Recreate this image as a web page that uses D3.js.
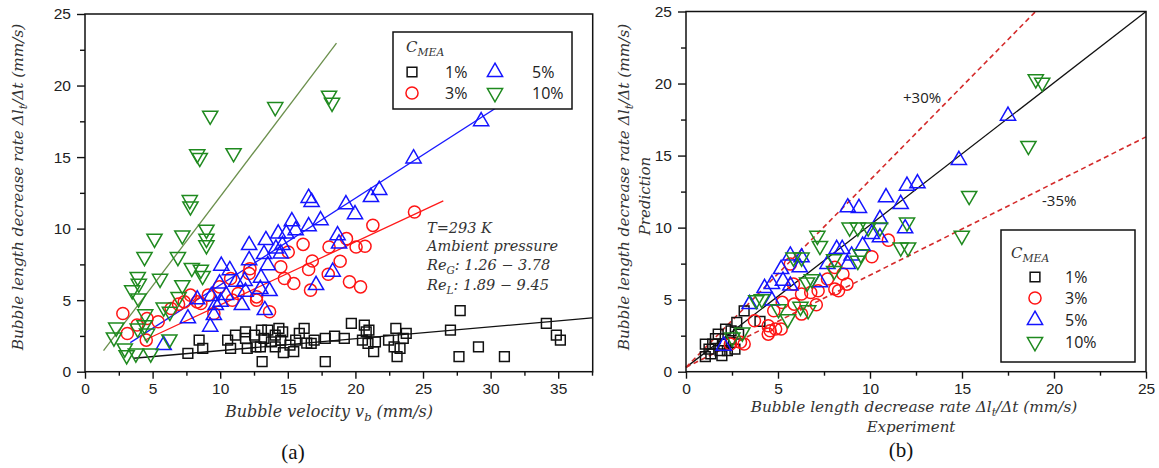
<!DOCTYPE html>
<html>
<head>
<meta charset="utf-8">
<script src="https://cdn.jsdelivr.net/npm/d3@7"></script>
<style>
  body { margin: 0; background: #fff; }
  svg { display: block; }
  .tick text { font-family: "Liberation Sans", Arial, sans-serif; font-size: 15.5px; fill: #222; }
  .ital { font-family: "DejaVu Serif", serif; font-style: italic; fill: #333; }
  .sans { font-family: "Open Sans", sans-serif; fill: #222; }
</style>
</head>
<body>
<svg id="chart" width="1159" height="468"></svg>
<script>
var W = 1159, H = 468;

// ---- panel (a) data: bubble velocity vs decrease rate ----
var aSq = [[27.75,4.26],[27.03,2.91],[34.12,3.37],[34.86,2.56],[35.16,2.21],[29.1,1.74],[27.66,1.05],[31.02,1.05],
  [22.99,3.02],[23.76,2.67],[23.54,2.33],[22.86,1.74],[23.08,1.05],[23.3,1.63],[22.45,2.21],[21.48,2.09],[21.35,1.4],
  [20.93,1.98],[20.66,3.26],[20.8,2.79],[19.7,3.37],[20.52,2.21],[19.18,2.33],[18.46,2.49],[17.77,2.33],[17.77,0.7],
  [16.95,2.21],[16.73,1.98],[16.21,3.02],[15.85,2.67],[15.58,2.21],[15.16,1.86],[15.44,1.4],[14.62,2.79],[14.48,2.21],
  [14.07,2.56],[14.07,1.74],[14.67,1.33],[13.52,2.91],[13.24,2.33],[13.1,0.7],[12.97,1.74],[12.64,1.74],[12.55,2.56],
  [11.87,2.79],[11.87,2.33],[12.0,1.63],[11.13,2.56],[10.55,2.21],[10.77,1.63],[13.05,2.91],[8.44,2.21],[8.71,1.63],
  [7.61,1.28],[13.79,2.09],[14.34,3.02],[21.0,2.9],[16.4,2.0]];
var aCi = [[24.37,11.16],[21.29,10.23],[19.34,9.3],[20.05,8.72],[20.71,8.77],[18.05,8.72],[16.13,8.9],[16.81,7.74],
  [16.54,7.14],[16.68,5.7],[18.87,7.72],[17.99,6.81],[19.56,6.28],[20.38,5.93],[15.03,8.37],[14.48,7.33],[14.75,6.51],
  [15.44,6.16],[12.14,6.86],[10.77,6.51],[11.32,5.47],[10.9,5.0],[12.69,5.23],[12.69,5.0],[9.95,5.93],[9.12,5.35],
  [7.8,5.35],[7.34,4.88],[6.92,4.72],[8.3,4.88],[8.57,4.77],[9.53,4.07],[13.65,4.19],[2.8,4.07],[3.13,2.67],
  [3.85,3.26],[4.59,3.72],[4.53,2.21],[5.41,3.49],[6.37,4.42],[12.2,7.2]];
var aUp = [[29.3,17.5],[24.3,14.9],[21.76,12.7],[21.15,12.2],[19.3,11.7],[19.97,11.0],[16.54,12.14],[16.76,11.86],
  [17.42,10.58],[16.54,10.16],[15.3,10.51],[15.58,9.88],[14.89,9.65],[14.29,9.65],[14.6,8.84],[14.12,8.6],[14.48,8.26],
  [13.38,9.19],[13.24,8.21],[13.52,7.44],[12.14,8.84],[12.14,7.79],[13.02,6.56],[12.97,5.77],[13.65,5.63],[11.81,6.33],
  [10.71,7.09],[10.08,7.4],[11.87,5.58],[11.6,4.65],[11.18,6.28],[10.44,5.35],[10.03,4.88],[9.67,4.65],[9.34,5.28],
  [9.53,3.95],[9.26,3.14],[9.95,6.16],[8.3,5.05],[7.61,3.72],[13.3,4.3],[5.82,1.86],[17.09,6.05],[18.32,6.98],
  [18.68,9.53],[18.79,8.95]];
var aDn = [[9.26,17.9],[14.07,18.5],[18.05,19.3],[18.27,18.8],[8.3,15.2],[8.49,14.95],[10.99,15.28],[7.75,12.0],
  [7.8,11.56],[8.98,9.93],[8.98,9.3],[8.98,8.84],[7.2,9.53],[5.14,9.3],[4.4,8.02],[6.87,8.02],[3.9,6.63],[3.98,6.16],
  [3.49,5.7],[3.96,5.12],[5.55,6.5],[7.9,7.26],[8.57,7.14],[8.7,6.7],[7.2,6.05],[6.92,5.23],[5.82,4.49],[6.28,4.19],
  [4.45,4.02],[3.9,3.02],[2.31,3.09],[2.14,2.4],[4.4,3.26],[6.24,2.26],[2.94,1.63],[3.08,1.16],[3.76,1.28],[4.86,1.28],
  [4.59,2.67]];
// linear fits for panel (a): [x0, y0, x1, y1]
var aFits = [
  {key: "1%",  seg: [3.6, 0.94, 37.5, 3.76]},
  {key: "3%",  seg: [4.4, 2.2, 26.5, 11.94]},
  {key: "5%",  seg: [3.35, 2.03, 32.0, 19.4]},
  {key: "10%", seg: [1.37, 1.47, 18.6, 22.96]}
];

// ---- panel (b) data: experiment vs prediction ----
var bSq = [[1.05,1.92],[1.05,1.04],[1.45,1.92],[1.35,1.23],[1.75,2.61],[1.85,1.46],[2.15,2.96],[2.25,1.46],[2.66,1.57],
  [2.76,3.42],[3.16,4.23],[2.45,2.84],[2.86,2.61],[4.02,3.49],[1.95,1.11],[1.25,1.57],[2.05,1.92],[2.45,2.04],[1.6,2.3]];
var bCi = [[11.0,9.13],[10.1,7.98],[8.75,6.08],[8.53,6.78],[8.09,5.74],[8.29,5.62],[7.69,6.43],[7.18,5.62],[7.08,4.65],
  [6.78,5.5],[6.28,5.39],[5.67,7.47],[5.84,6.08],[5.23,4.81],[4.77,4.23],[6.28,4.0],[5.88,4.69],[3.72,3.54],[4.47,3.19],
  [4.47,2.61],[4.87,2.96],[5.17,2.96],[4.57,2.84],[3.16,1.92],[2.96,2.04],[2.41,1.92],[8.09,7.24]];
var bUp = [[17.5,17.76],[14.83,14.69],[12.58,13.07],[12.01,12.9],[10.87,12.1],[11.67,11.63],[8.79,11.4],[9.4,11.36],
  [10.54,10.59],[11.91,9.94],[10.1,9.55],[10.54,9.32],[9.6,8.74],[9.0,8.05],[8.79,7.47],[8.19,8.51],[8.49,8.51],
  [7.69,7.47],[7.28,6.2],[6.28,7.93],[5.67,8.05],[6.18,7.24],[5.17,7.12],[5.27,6.31],[5.67,5.97],[4.67,6.08],[4.27,5.8],
  [4.67,4.93],[3.46,4.69],[2.05,1.8]];
var bDn = [[19.01,20.3],[19.36,20.07],[18.61,15.68],[15.39,12.21],[14.99,9.44],[12.01,10.36],[11.67,8.63],[12.07,8.63],
  [8.89,10.01],[9.34,10.01],[9.9,10.01],[10.54,10.01],[7.14,9.44],[7.28,8.74],[9.5,8.16],[9.34,7.7],[8.05,7.82],
  [8.05,7.0],[5.84,7.93],[6.28,7.93],[6.58,6.2],[6.84,6.43],[3.82,4.97],[4.12,5.04],[5.03,4.35],[6.22,4.51],[6.64,4.28],
  [5.53,3.65],[3.06,2.73],[2.52,2.38]];
// reference lines for panel (b)
var bLines = [
  {seg: [0, 0.3, 25, 25], dash: null},
  {seg: [0, 0.3, 19.0, 25], dash: "5,3.5"},
  {seg: [0, 0.3, 25, 16.3], dash: "5,3.5"}
];

var seriesNames = ["1%", "3%", "5%", "10%"];
var seriesColor = {"1%": "#111111", "3%": "#ff1414", "5%": "#1414ff", "10%": "#1f8a1f"};
var fitColor = {"1%": "#111111", "3%": "#ff1a1a", "5%": "#1a1aff", "10%": "#6b8f4c"};
var seriesSymbol = {"1%": d3.symbolSquare, "3%": d3.symbolCircle, "5%": d3.symbolTriangle, "10%": d3.symbolTriangle};
var seriesSize = {"1%": 95, "3%": 115, "5%": 100, "10%": 100};

var svg = d3.select("#chart");

function symPath(key) {
  return d3.symbol().type(seriesSymbol[key]).size(seriesSize[key])();
}

function drawMarkers(g, x, y, pts, key) {
  g.append("g").selectAll("path")
    .data(pts)
    .enter()
    .append("path")
    .attr("d", symPath(key))
    .attr("transform", function(d) {
      var t = "translate(" + x(d[0]) + "," + y(d[1]) + ")";
      return key == "10%" ? t + " rotate(180)" : t;
    })
    .attr("fill", "none")
    .attr("stroke", seriesColor[key])
    .attr("stroke-width", 1.5);
}

function drawAxes(x, y, xMax) {
  var g = svg.append("g");
  var y0 = y.range()[0], x0 = x.range()[0];
  // minor ticks
  var minX = d3.range(2.5, xMax, 5);
  var minY = d3.range(2.5, 25, 5);
  g.append("g").attr("transform", "translate(0," + y0 + ")")
    .call(d3.axisBottom(x).tickValues(minX).tickSize(4).tickSizeOuter(0).tickFormat(""));
  g.append("g").attr("transform", "translate(" + x0 + ",0)")
    .call(d3.axisLeft(y).tickValues(minY).tickSize(5).tickSizeOuter(0).tickFormat(""));
  g.append("g").attr("transform", "translate(0," + y0 + ")")
    .call(d3.axisBottom(x).tickValues(d3.range(0, xMax, 5)).tickSize(7).tickSizeOuter(0).tickPadding(4).tickFormat(d3.format("d")));
  g.append("g").attr("transform", "translate(" + x0 + ",0)")
    .call(d3.axisLeft(y).tickValues(d3.range(0, 26, 5)).tickSize(8).tickSizeOuter(0).tickPadding(6).tickFormat(d3.format("d")));
  g.selectAll(".domain").remove();
  g.selectAll(".tick line").attr("stroke", "#111").attr("stroke-width", 1.4);
  // frame
  svg.append("rect")
    .attr("x", x.range()[0]).attr("y", y.range()[1])
    .attr("width", x.range()[1] - x.range()[0])
    .attr("height", y.range()[0] - y.range()[1])
    .attr("fill", "none").attr("stroke", "#111").attr("stroke-width", 1.5);
}

// italic math-like text with subscripts: parts = [[text, sub?, restore?], ...]
function mathText(parent, parts, size) {
  parts.forEach(function(p) {
    var t = parent.append("tspan").text(p[0]);
    if (p[1]) t.attr("font-size", size * 0.72).attr("dy", size * 0.28);
    else if (p[2]) t.attr("dy", -size * 0.28);
  });
  return parent;
}
function mathParts(list) {
  var out = [], prevSub = false;
  list.forEach(function(p) {
    if (prevSub && !p[1]) out.push([p[0], false, true]);
    else out.push(p);
    prevSub = !!p[1];
  });
  return out;
}

// ================= panel (a) =================
var xa = d3.scaleLinear().domain([0, 37.55]).range([85, 592.7]);
var ya = d3.scaleLinear().domain([0, 25]).range([371.7, 14]);

var ga = svg.append("g");
aFits.forEach(function(f) {
  ga.append("line")
    .attr("x1", xa(f.seg[0])).attr("y1", ya(f.seg[1]))
    .attr("x2", xa(f.seg[2])).attr("y2", ya(f.seg[3]))
    .attr("stroke", fitColor[f.key]).attr("stroke-width", 1.3);
});
drawMarkers(ga, xa, ya, aSq, "1%");
drawMarkers(ga, xa, ya, aCi, "3%");
drawMarkers(ga, xa, ya, aUp, "5%");
drawMarkers(ga, xa, ya, aDn, "10%");
drawAxes(xa, ya, 37.55);

// legend (a)
var la = svg.append("g");
la.append("rect").attr("x", 393).attr("y", 32).attr("width", 179).attr("height", 77)
  .attr("fill", "#fff").attr("stroke", "#111").attr("stroke-width", 1.5);
var ta = la.append("text").attr("class", "ital").attr("x", 406).attr("y", 52).attr("font-size", 15);
mathText(ta, mathParts([["C"], ["MEA", true]]), 15);
var legA = [["1%", 412, 72, 445], ["5%", 495, 72, 532], ["3%", 412, 93, 445], ["10%", 495, 93, 532]];
legA.forEach(function(r) {
  la.append("path").attr("d", symPath(r[0]))
    .attr("transform", "translate(" + r[1] + "," + r[2] + ")" + (r[0] == "10%" ? " rotate(180)" : ""))
    .attr("fill", "none").attr("stroke", seriesColor[r[0]]).attr("stroke-width", 1.5);
  la.append("text").attr("class", "sans").attr("x", r[3]).attr("y", r[2] + 6)
    .attr("font-size", 16).text(r[0]);
});

// annotation (a)
var annA = [
  [[["T=293 K"]], 233],
  [[["Ambient pressure"]], 251],
  [[["Re"], ["G", true], [": 1.26 − 3.78"]], 270],
  [[["Re"], ["L", true], [": 1.89 − 9.45"]], 290]
];
annA.forEach(function(a) {
  var t = svg.append("text").attr("class", "ital").attr("x", 427).attr("y", a[1]).attr("font-size", 14.5);
  mathText(t, mathParts(a[0]), 14.5);
});

// axis titles (a)
var xta = svg.append("text").attr("class", "ital").attr("x", 329).attr("y", 417)
  .attr("text-anchor", "middle").attr("font-size", 16);
mathText(xta, mathParts([["Bubble velocity "], ["v"], ["b", true], [" (mm/s)"]]), 16);
var yta = svg.append("text").attr("class", "ital").attr("transform", "translate(23,187) rotate(-90)")
  .attr("text-anchor", "middle").attr("font-size", 15.3);
mathText(yta, mathParts([["Bubble length decrease rate Δl"], ["t", true], ["/Δt (mm/s)"]]), 15.3);

svg.append("text").attr("x", 293).attr("y", 459).attr("text-anchor", "middle")
  .attr("font-family", "Liberation Serif, serif").attr("font-size", 21).attr("fill", "#111").text("(a)");

// ================= panel (b) =================
var xb = d3.scaleLinear().domain([0, 25]).range([686, 1146]);
var yb = d3.scaleLinear().domain([0, 25]).range([371.7, 11.5]);

var gb = svg.append("g");
bLines.forEach(function(l) {
  gb.append("line")
    .attr("x1", xb(l.seg[0])).attr("y1", yb(l.seg[1]))
    .attr("x2", xb(l.seg[2])).attr("y2", yb(l.seg[3]))
    .attr("stroke", l.dash ? "#d42a2a" : "#111")
    .attr("stroke-width", l.dash ? 1.6 : 1.3)
    .attr("stroke-dasharray", l.dash);
});
drawMarkers(gb, xb, yb, bSq, "1%");
drawMarkers(gb, xb, yb, bCi, "3%");
drawMarkers(gb, xb, yb, bUp, "5%");
drawMarkers(gb, xb, yb, bDn, "10%");
drawAxes(xb, yb, 25.01);

svg.append("text").attr("class", "sans").attr("x", 903).attr("y", 103).attr("font-size", 15).text("+30%");
svg.append("text").attr("class", "sans").attr("x", 1042).attr("y", 206).attr("font-size", 15).text("-35%");

// legend (b)
var lb = svg.append("g");
lb.append("rect").attr("x", 1001).attr("y", 230).attr("width", 134).attr("height", 132)
  .attr("fill", "#fff").attr("stroke", "#111").attr("stroke-width", 1.5);
var tb = lb.append("text").attr("class", "ital").attr("x", 1011).attr("y", 258).attr("font-size", 15);
mathText(tb, mathParts([["C"], ["MEA", true]]), 15);
var legRowsB = [277, 298, 320, 342];
seriesNames.forEach(function(k, i) {
  lb.append("path").attr("d", symPath(k))
    .attr("transform", "translate(1035," + legRowsB[i] + ")" + (k == "10%" ? " rotate(180)" : ""))
    .attr("fill", "none").attr("stroke", seriesColor[k]).attr("stroke-width", 1.5);
  lb.append("text").attr("class", "sans").attr("x", 1065).attr("y", legRowsB[i] + 6)
    .attr("font-size", 16).text(k);
});

// axis titles (b)
var xtb = svg.append("text").attr("class", "ital").attr("x", 914).attr("y", 412)
  .attr("text-anchor", "middle").attr("font-size", 15.3);
mathText(xtb, mathParts([["Bubble length decrease rate Δl"], ["t", true], ["/Δt (mm/s)"]]), 15.3);
svg.append("text").attr("class", "ital").attr("x", 911).attr("y", 432)
  .attr("text-anchor", "middle").attr("font-size", 15).text("Experiment");
var ytb = svg.append("text").attr("class", "ital").attr("transform", "translate(629,187) rotate(-90)")
  .attr("text-anchor", "middle").attr("font-size", 15.3);
mathText(ytb, mathParts([["Bubble length decrease rate Δl"], ["t", true], ["/Δt (mm/s)"]]), 15.3);
svg.append("text").attr("class", "ital").attr("transform", "translate(650,196) rotate(-90)")
  .attr("text-anchor", "middle").attr("font-size", 15).text("Prediction");

svg.append("text").attr("x", 901).attr("y", 457).attr("text-anchor", "middle")
  .attr("font-family", "Liberation Serif, serif").attr("font-size", 21).attr("fill", "#111").text("(b)");
</script>
</body>
</html>
